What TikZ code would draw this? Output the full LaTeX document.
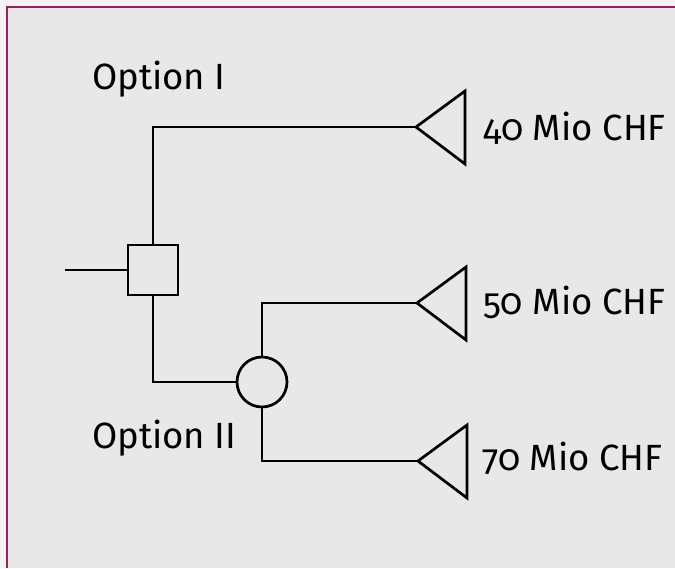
\documentclass[tikz,border=0pt]{standalone}
\usepackage{fontspec}
\setmainfont[Numbers=OldStyle]{Fira Sans}
\usetikzlibrary{calc}
\definecolor{frame}{RGB}{155,30,95}
\definecolor{paper}{RGB}{232,232,232}
\definecolor{outer}{RGB}{243,243,243}
\tikzset{
  decision/.style={draw, line width=2.7pt, minimum size=50pt, inner sep=0pt},
  chance/.style={draw, circle, line width=2.7pt, minimum size=50pt, inner sep=0pt},
  edge/.style={line width=2.7pt},
  lbl/.style={font=\fontsize{36.5}{42}\selectfont, inner sep=0pt, anchor=base west}
}
\begin{document}
\begin{tikzpicture}[x=1pt,y=-1pt]
\useasboundingbox (0,0) rectangle (675,568);
\fill[outer] (0,0) rectangle (675,568);
\fill[paper] (7,7) rectangle (675,568);
\draw[frame, line width=1.6pt] (7,568)--(7,7)--(675,7);

\node[decision] (dec) at (153,270) {};
\node[chance] (ch) at (262,382) {};

\coordinate (in) at (65,270);
\coordinate (t1) at (416,127);
\coordinate (t2) at (417,303);
\coordinate (t3) at (418,461);

% end points
\draw[edge] (t1) -- ++(49,-36) -- ++(0,73) -- cycle;
\draw[edge] (t2) -- ++(49,-36) -- ++(0,73) -- cycle;
\draw[edge] (t3) -- ++(49,-36) -- ++(0,73) -- cycle;

\draw[edge] (in) -- (dec.west);
\draw[edge] (dec.north) |- (t1);
\draw[edge] (dec.south) |- (ch.west);
\draw[edge] (ch.north) |- (t2);
\draw[edge] (ch.south) |- (t3);

\node[lbl] (opt1) at (92,89) {Option I};
\node[lbl] (opt2) at (92,448) {Option II};
\node[lbl] (v1) at (483,140) {40 Mio CHF};
\node[lbl] (v2) at (483,314) {50 Mio CHF};
\node[lbl] (v3) at (482,470) {70 Mio CHF};
\end{tikzpicture}
\end{document}
